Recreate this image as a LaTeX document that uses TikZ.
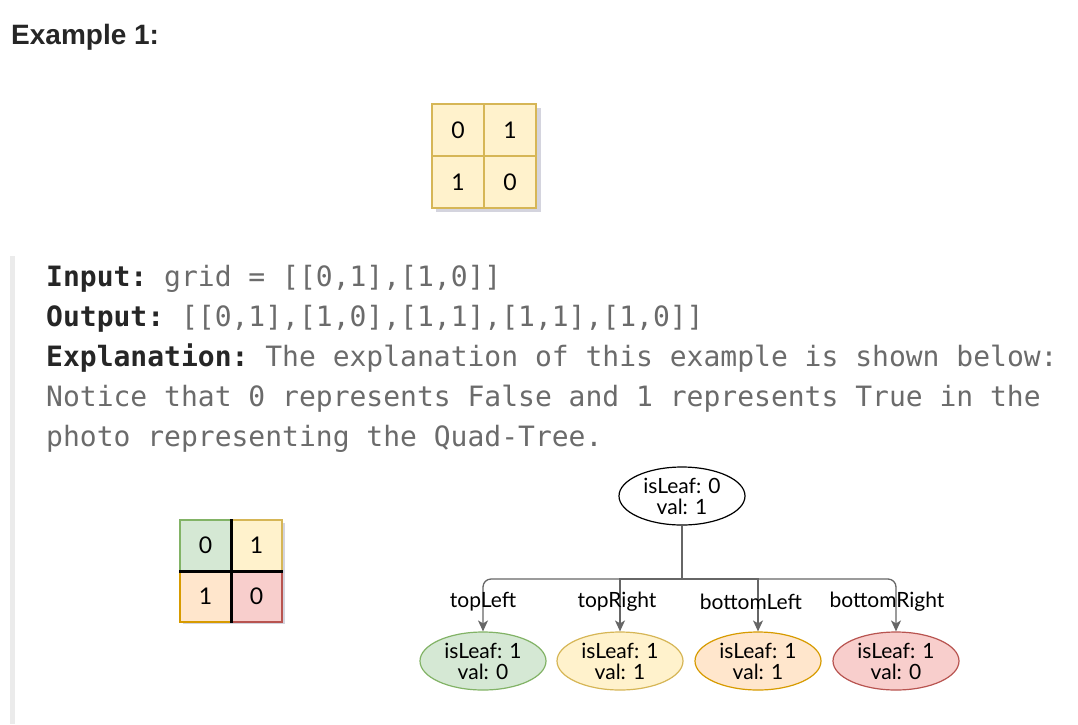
\documentclass[tikz,border=0pt]{standalone}
\usepackage{fontspec}
\setmainfont{Liberation Sans}
\setmonofont{DejaVu Sans Mono}
\newfontfamily\sketchfont{Lato}
\usetikzlibrary{shapes.geometric,arrows.meta,positioning}

\definecolor{inkgray}{HTML}{262626}
\definecolor{codegray}{HTML}{6B6B6B}
\definecolor{bargray}{HTML}{EBEBEB}
\definecolor{edgegray}{HTML}{666666}
\definecolor{shadegray}{HTML}{B8B8C8}
\definecolor{ylwfill}{HTML}{FFF2CC}
\definecolor{ylwline}{HTML}{D6B656}
\definecolor{grnfill}{HTML}{D5E8D4}
\definecolor{grnline}{HTML}{82B366}
\definecolor{orgfill}{HTML}{FFE6CC}
\definecolor{orgline}{HTML}{D79B00}
\definecolor{redfill}{HTML}{F8CECC}
\definecolor{redline}{HTML}{B85450}

\tikzset{
  cell/.style={draw=#1, line width=1.2pt, minimum size=52pt, inner sep=0pt,
    font=\sketchfont\fontsize{23}{23}\selectfont},
  codeline/.style={anchor=base west, inner sep=0pt, text=codegray,
    font=\ttfamily\fontsize{28}{40}\selectfont},
  qnode/.style={ellipse, draw=#1, line width=1.2pt, minimum width=126pt,
    minimum height=58pt, inner sep=0pt, align=center,
    font=\sketchfont\fontsize{21}{21}\selectfont},
  edge/.style={draw=edgegray, line width=1.3pt},
  arrowedge/.style={edge, -{Stealth[length=11pt,width=10pt,inset=3pt]}},
  lbl/.style={inner sep=0pt, font=\sketchfont\fontsize{21}{21}\selectfont}
}

\begin{document}
\begin{tikzpicture}[x=1pt,y=-1pt]
\useasboundingbox (0,0) rectangle (1078,724);

% heading
\node[anchor=base west, inner sep=0pt, text=inkgray,
  font=\bfseries\fontsize{28}{28}\selectfont] (title) at (11,44) {Example 1:};

% input grid
\fill[shadegray, opacity=0.6] (436,108) rectangle (541,212);
\node[cell=ylwline, fill=ylwfill] (a1) at (458,130) {0};
\node[cell=ylwline, fill=ylwfill] (a2) at (510,130) {1};
\node[cell=ylwline, fill=ylwfill] (a3) at (458,182) {1};
\node[cell=ylwline, fill=ylwfill] (a4) at (510,182) {0};

% quote bar and text
\fill[bargray] (10,256) rectangle (15,724);
\node[codeline] (line1) at (46,286) {\textcolor{inkgray}{\bfseries Input:} grid = [[0,1],[1,0]]};
\node[codeline] (line2) at (46,326) {\textcolor{inkgray}{\bfseries Output:} [[0,1],[1,0],[1,1],[1,1],[1,0]]};
\node[codeline] (line3) at (46,366) {\textcolor{inkgray}{\bfseries Explanation:} The explanation of this example is shown below:};
\node[codeline] (line4) at (46,406) {Notice that 0 represents False and 1 represents True in the};
\node[codeline] (line5) at (46,446) {photo representing the Quad-Tree.};

% split grid
\fill[shadegray, opacity=0.6] (183,523) rectangle (285,624);
\node[cell=grnline, fill=grnfill, minimum size=51pt] (g1) at (205.5,545.5) {0};
\node[cell=ylwline, fill=ylwfill, minimum size=51pt] (g2) at (256.5,545.5) {1};
\node[cell=orgline, fill=orgfill, minimum size=51pt] (g3) at (205.5,596.5) {1};
\node[cell=redline, fill=redfill, minimum size=51pt] (g4) at (256.5,596.5) {0};
\draw[line width=3pt] (g1.north east) -- (g3.south east);
\draw[line width=3pt] (g1.south west) -- (g2.south east);

% quad tree
\node[qnode=black, fill=white] (root) at (682,496) {isLeaf: 0\\val: 1};
\node[qnode=grnline, fill=grnfill] (tl) at (483,661) {isLeaf: 1\\val: 0};
\node[qnode=ylwline, fill=ylwfill] (tr) at (620,661) {isLeaf: 1\\val: 1};
\node[qnode=orgline, fill=orgfill] (bl) at (758,661) {isLeaf: 1\\val: 1};
\node[qnode=redline, fill=redfill] (br) at (896,661) {isLeaf: 1\\val: 0};

\coordinate (fork) at (682,579);
\draw[edge] (root.south) -- (fork);
\draw[arrowedge, rounded corners=8pt] (fork) -| node[lbl, pos=0.72] {topLeft} (tl.north);
\draw[arrowedge] (fork) -| node[lbl, pos=0.72, xshift=-3pt] {topRight} (tr.north);
\draw[arrowedge] (fork) -| node[lbl, pos=0.72, xshift=-7pt] {bottomLeft} (bl.north);
\draw[arrowedge, rounded corners=8pt] (fork) -| node[lbl, pos=0.72, xshift=-9pt] {bottomRight} (br.north);
\end{tikzpicture}
\end{document}
